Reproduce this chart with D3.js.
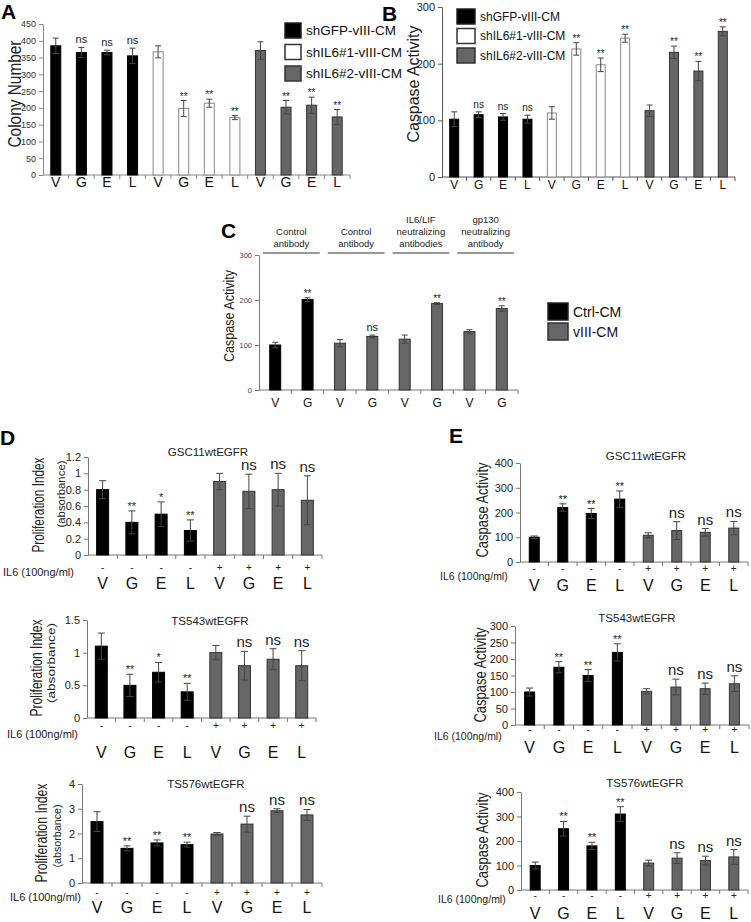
<!DOCTYPE html>
<html>
<head>
<meta charset="utf-8">
<script src="https://cdn.jsdelivr.net/npm/d3@7"></script>
<style>
  body { margin: 0; background: #fff; }
  svg { display: block; }
</style>
</head>
<body>
<svg id="fig" width="751" height="922"></svg>
<script>
// ---- data ----
const abLabels = ["V", "G", "E", "L", "V", "G", "E", "L", "V", "G", "E", "L"];
const abGroups = [0, 0, 0, 0, 1, 1, 1, 1, 2, 2, 2, 2];
const abLegend = ["shGFP-vIII-CM", "shIL6#1-vIII-CM", "shIL6#2-vIII-CM"];

const colonyMean = [385, 365, 365, 355, 367, 198, 214, 171, 371, 202, 208, 173];
const colonyErr = [23, 15, 7, 23, 18, 24, 12, 6, 26, 20, 24, 22];
const colonySig = ["", "ns", "ns", "ns", "", "**", "**", "**", "", "**", "**", "**"];
const colonyTicks = [0, 50, 100, 150, 200, 250, 300, 350, 400, 450];

const caspBMean = [102, 110, 106, 102, 113, 226, 198, 245, 117, 220, 187, 257];
const caspBErr = [13, 5, 6, 7, 11, 11, 12, 7, 10, 11, 17, 8];
const caspBSig = ["", "ns", "ns", "ns", "", "**", "**", "**", "", "**", "**", "**"];
const caspBTicks = [0, 100, 200, 300];

const cLabels = ["V", "G", "V", "G", "V", "G", "V", "G"];
const cGroups = [0, 0, 1, 1, 1, 1, 1, 1];
const cMean = [100, 201, 104, 119, 113, 192, 130, 181];
const cErr = [6, 4, 8, 3, 9, 2, 4, 6];
const cSig = ["", "**", "", "ns", "", "**", "", "**"];
const cTicks = [0, 100, 200, 300];
const cHeaders = [["Control", "antibody"], ["Control", "antibody"],
                  ["IL6/LIF", "neutralizing", "antibodies"], ["gp130", "neutralizing", "antibody"]];
const cLegend = ["Ctrl-CM", "vIII-CM"];

const deLabels = ["V", "G", "E", "L", "V", "G", "E", "L"];
const deGroups = [0, 0, 0, 0, 1, 1, 1, 1];
const il6Signs = ["-", "-", "-", "-", "+", "+", "+", "+"];

const prolifGSC11 = [0.80, 0.40, 0.50, 0.30, 0.90, 0.78, 0.80, 0.67];
const prolifGSC11Err = [0.11, 0.14, 0.15, 0.13, 0.10, 0.21, 0.20, 0.30];
const prolifGSC11Sig = ["", "**", "*", "**", "", "ns", "ns", "ns"];
const prolifGSC11Ticks = [0, 0.2, 0.4, 0.6, 0.8, 1, 1.2];

const prolifTS543 = [1.10, 0.50, 0.70, 0.40, 1.00, 0.80, 0.90, 0.80];
const prolifTS543Err = [0.20, 0.17, 0.15, 0.13, 0.11, 0.22, 0.16, 0.23];
const prolifTS543Sig = ["", "**", "*", "**", "", "ns", "ns", "ns"];
const prolifTS543Ticks = [0, 0.5, 1, 1.5];

const prolifTS576 = [2.48, 1.40, 1.62, 1.55, 1.98, 2.38, 2.92, 2.75];
const prolifTS576Err = [0.40, 0.10, 0.12, 0.10, 0.06, 0.32, 0.08, 0.22];
const prolifTS576Sig = ["", "**", "**", "**", "", "ns", "ns", "ns"];
const prolifTS576Ticks = [0, 1, 2, 3, 4];

const caspGSC11 = [100, 220, 196, 254, 108, 127, 120, 137];
const caspGSC11Err = [5, 15, 20, 33, 10, 36, 15, 27];
const caspGSC11Ticks = [0, 100, 200, 300, 400];

const caspTS543 = [100, 175, 150, 220, 102, 115, 110, 125];
const caspTS543Err = [12, 17, 18, 26, 8, 24, 17, 24];
const caspTS543Ticks = [0, 50, 100, 150, 200, 250, 300];

const caspTS576 = [100, 250, 180, 310, 110, 130, 120, 135];
const caspTS576Err = [14, 30, 15, 30, 12, 22, 18, 30];
const caspTS576Ticks = [0, 100, 200, 300, 400];

const caspSig = ["", "**", "**", "**", "", "ns", "ns", "ns"];

// ---- drawing ----
const FONT = "'Liberation Sans', Arial, sans-serif";
const svg = d3.select("#fig").attr("font-family", FONT);

function drawPanel(o) {
  const n = o.values.length;
  const g = svg.append("g");
  const x = d3.scaleBand().domain(d3.range(n)).range([o.x0, o.x1]);
  const y = d3.scaleLinear().domain([0, o.yMax]).range([o.y0, o.y1]);
  const cx = i => x(i) + x.bandwidth() / 2;

  const yAxis = g.append("g")
      .attr("transform", `translate(${o.x0},0)`)
      .call(d3.axisLeft(y).tickValues(o.ticks).tickSize(4).tickSizeOuter(0)
        .tickPadding(3).tickFormat(d3.format("")));
  yAxis.attr("font-family", FONT);
  yAxis.select(".domain").attr("stroke", o.axisColor);
  yAxis.selectAll(".tick line").attr("stroke", o.axisColor);
  yAxis.selectAll(".tick text").attr("font-size", o.tickFont).attr("fill", o.tickColor || "#222");

  // x axis with ticks between categories
  g.append("line")
      .attr("x1", o.x0).attr("x2", o.x1)
      .attr("y1", o.y0).attr("y2", o.y0)
      .attr("stroke", o.axisColor);
  g.selectAll(null)
    .data(d3.range(1, n + 1))
    .join("line")
      .attr("x1", i => o.x0 + i * x.step()).attr("x2", i => o.x0 + i * x.step())
      .attr("y1", o.y0).attr("y2", o.y0 + 4)
      .attr("stroke", o.axisColor);

  // bars
  g.selectAll(null)
    .data(o.values)
    .join("rect")
      .attr("x", (d, i) => cx(i) - o.barW / 2)
      .attr("y", d => y(d))
      .attr("width", o.barW)
      .attr("height", d => y(0) - y(d))
      .attr("fill", (d, i) => o.fills[o.groups[i]])
      .attr("stroke", (d, i) => o.strokes[o.groups[i]])
      .attr("stroke-width", 1);

  // error bars
  const cap = o.capW / 2;
  const eb = g.selectAll(null)
    .data(o.values)
    .join("g")
      .attr("stroke", "#444")
      .attr("stroke-width", 1);
  eb.append("line")
      .attr("x1", (d, i) => cx(i)).attr("x2", (d, i) => cx(i))
      .attr("y1", (d, i) => y(d - o.errors[i])).attr("y2", (d, i) => y(d + o.errors[i]));
  eb.append("line")
      .attr("x1", (d, i) => cx(i) - cap).attr("x2", (d, i) => cx(i) + cap)
      .attr("y1", (d, i) => y(d + o.errors[i])).attr("y2", (d, i) => y(d + o.errors[i]));
  eb.append("line")
      .attr("x1", (d, i) => cx(i) - cap).attr("x2", (d, i) => cx(i) + cap)
      .attr("y1", (d, i) => y(d - o.errors[i])).attr("y2", (d, i) => y(d - o.errors[i]));

  // significance marks
  g.selectAll(null)
    .data(o.sig)
    .join("text")
      .attr("x", (d, i) => cx(i))
      .attr("y", (d, i) => y(o.values[i] + o.errors[i]) - (d === "ns" ? 4 : 1))
      .attr("text-anchor", "middle")
      .attr("font-size", d => d === "ns" ? o.nsFont : o.starFont)
      .attr("fill", "#222")
      .text(d => d);

  // category labels
  g.selectAll(null)
    .data(o.labels)
    .join("text")
      .attr("x", (d, i) => cx(i))
      .attr("y", o.labelY)
      .attr("text-anchor", "middle")
      .attr("font-size", o.labelFont)
      .attr("fill", "#111")
      .text(d => d);

  if (o.signY) {
    g.selectAll(null)
      .data(il6Signs)
      .join("text")
        .attr("x", (d, i) => cx(i))
        .attr("y", o.signY)
        .attr("text-anchor", "middle")
        .attr("font-size", 10)
        .attr("fill", "#222")
        .text(d => d);
    g.append("text")
        .attr("x", o.il6X).attr("y", o.il6Y)
        .attr("font-size", o.il6Font || 11)
        .attr("fill", "#222")
        .text("IL6 (100ng/ml)");
  }

  // y axis title
  g.append("text")
      .attr("transform", `translate(${o.titleX},${o.titleY}) rotate(-90)`)
      .attr("text-anchor", "middle")
      .attr("dominant-baseline", "central")
      .attr("font-size", o.titleFont)
      .attr("textLength", o.titleLen)
      .attr("lengthAdjust", "spacingAndGlyphs")
      .attr("fill", "#222")
      .text(o.title);

  if (o.sub) {
    g.append("text")
        .attr("transform", `translate(${o.subX},${o.subY}) rotate(-90)`)
        .attr("text-anchor", "middle")
        .attr("dominant-baseline", "central")
        .attr("font-size", 11)
        .attr("textLength", o.subLen)
        .attr("lengthAdjust", "spacingAndGlyphs")
        .attr("fill", "#222")
        .text(o.sub);
  }

  if (o.chartTitle) {
    g.append("text")
        .attr("x", o.ctX).attr("y", o.ctY)
        .attr("text-anchor", "middle")
        .attr("font-size", 11.5)
        .attr("fill", "#222")
        .text(o.chartTitle);
  }
  return { x, y, cx, g };
}

function panelLetter(t, px, py) {
  svg.append("text")
      .attr("x", px).attr("y", py)
      .attr("font-size", 21)
      .attr("font-weight", "bold")
      .text(t);
}

function legend(items, fills, strokes, lx, ly, step, w, h, fontSize) {
  const lg = svg.append("g");
  lg.selectAll(null)
    .data(items)
    .join("rect")
      .attr("x", lx).attr("y", (d, i) => ly + i * step)
      .attr("width", w).attr("height", h)
      .attr("fill", (d, i) => fills[i])
      .attr("stroke", (d, i) => strokes[i])
      .attr("stroke-width", 1.5);
  lg.selectAll(null)
    .data(items)
    .join("text")
      .attr("x", lx + w + 5).attr("y", (d, i) => ly + i * step + h / 2)
      .attr("dominant-baseline", "central")
      .attr("font-size", fontSize)
      .attr("fill", "#111")
      .text(d => d);
}

const abFills = ["#000", "#fff", "#666"];
const abStrokes = ["#000", "#888", "#333"];
const deFills = ["#000", "#666"];
const deStrokes = ["#000", "#333"];

// ---- A ----
panelLetter("A", 1, 19);
drawPanel({
  x0: 43, x1: 350, y0: 175, y1: 24, yMax: 450, ticks: colonyTicks,
  values: colonyMean, errors: colonyErr, sig: colonySig, groups: abGroups,
  fills: abFills, strokes: abStrokes, barW: 10, capW: 6,
  axisColor: "#888", tickFont: 9, tickColor: "#333",
  labels: abLabels, labelY: 187, labelFont: 14,
  nsFont: 11, starFont: 10,
  title: "Colony Number", titleX: 14, titleY: 94, titleFont: 19, titleLen: 107
});
legend(abLegend, ["#000", "#fff", "#666"], ["#222", "#333", "#333"], 285, 23, 21.5, 16, 15, 13.5);

// ---- B ----
panelLetter("B", 382, 21);
drawPanel({
  x0: 442, x1: 735, y0: 177, y1: 7, yMax: 300, ticks: caspBTicks,
  values: caspBMean, errors: caspBErr, sig: caspBSig, groups: abGroups,
  fills: abFills, strokes: abStrokes, barW: 9, capW: 6,
  axisColor: "#555", tickFont: 11,
  labels: abLabels, labelY: 189, labelFont: 12,
  nsFont: 10, starFont: 10,
  title: "Caspase Activity", titleX: 413, titleY: 84, titleFont: 17, titleLen: 117
});
legend(abLegend, ["#000", "#fff", "#666"], ["#222", "#333", "#333"], 457, 9, 19.5, 18, 15, 12);

// ---- C ----
panelLetter("C", 221, 238);
const pc = drawPanel({
  x0: 259, x1: 518, y0: 390, y1: 255, yMax: 300, ticks: cTicks,
  values: cMean, errors: cErr, sig: cSig, groups: cGroups,
  fills: deFills, strokes: deStrokes, barW: 11, capW: 6,
  axisColor: "#777", tickFont: 7.5, tickColor: "#444",
  labels: cLabels, labelY: 407, labelFont: 12,
  nsFont: 11, starFont: 10,
  title: "Caspase Activity", titleX: 228, titleY: 316, titleFont: 15, titleLen: 92
});
// group headers over bar pairs
const hdr = pc.g.selectAll(null)
  .data(cHeaders)
  .join("g");
hdr.append("line")
    .attr("x1", (d, k) => pc.x(2 * k) + 4)
    .attr("x2", (d, k) => pc.x(2 * k + 1) + pc.x.bandwidth() - 4)
    .attr("y1", 253).attr("y2", 253)
    .attr("stroke", "#333");
hdr.each(function(d, k) {
  const xm = (pc.cx(2 * k) + pc.cx(2 * k + 1)) / 2;
  d3.select(this).selectAll("text")
    .data(d)
    .join("text")
      .attr("x", xm)
      .attr("y", (t, j) => 247 - (d.length - 1 - j) * 12)
      .attr("text-anchor", "middle")
      .attr("font-size", 9.5)
      .attr("fill", "#222")
      .text(t => t);
});
legend(cLegend, ["#000", "#666"], ["#222", "#333"], 548, 303, 20, 20, 17, 14);

// ---- D ----
panelLetter("D", 0, 445);
drawPanel({
  x0: 88, x1: 322, y0: 555, y1: 457, yMax: 1.2, ticks: prolifGSC11Ticks,
  values: prolifGSC11, errors: prolifGSC11Err, sig: prolifGSC11Sig, groups: deGroups,
  fills: deFills, strokes: deStrokes, barW: 12, capW: 7,
  axisColor: "#777", tickFont: 11,
  labels: deLabels, labelY: 589, labelFont: 16, signY: 571, il6X: 3, il6Y: 576,
  nsFont: 15, starFont: 11,
  title: "Proliferation Index", titleX: 38, titleY: 505, titleFont: 16, titleLen: 95,
  sub: "(absorbance)", subX: 61, subY: 494, subLen: 67,
  chartTitle: "GSC11wtEGFR", ctX: 208, ctY: 456
});
drawPanel({
  x0: 87, x1: 316, y0: 718, y1: 620, yMax: 1.5, ticks: prolifTS543Ticks,
  values: prolifTS543, errors: prolifTS543Err, sig: prolifTS543Sig, groups: deGroups,
  fills: deFills, strokes: deStrokes, barW: 12, capW: 7,
  axisColor: "#777", tickFont: 11,
  labels: deLabels, labelY: 758, labelFont: 16, signY: 729, il6X: 7, il6Y: 738,
  nsFont: 15, starFont: 11,
  title: "Proliferation Index", titleX: 36, titleY: 668, titleFont: 16, titleLen: 97,
  sub: "(absorbance)", subX: 51, subY: 663, subLen: 80,
  chartTitle: "TS543wtEGFR", ctX: 210, ctY: 625
});
drawPanel({
  x0: 82, x1: 322, y0: 883, y1: 784, yMax: 4, ticks: prolifTS576Ticks,
  values: prolifTS576, errors: prolifTS576Err, sig: prolifTS576Sig, groups: deGroups,
  fills: deFills, strokes: deStrokes, barW: 12, capW: 7,
  axisColor: "#777", tickFont: 11,
  labels: deLabels, labelY: 913, labelFont: 16, signY: 896, il6X: 10, il6Y: 901,
  nsFont: 15, starFont: 11,
  title: "Proliferation Index", titleX: 41, titleY: 833, titleFont: 16, titleLen: 99,
  sub: "(absorbance)", subX: 57, subY: 836, subLen: 63,
  chartTitle: "TS576wtEGFR", ctX: 206, ctY: 788
});

// ---- E ----
panelLetter("E", 449, 443);
drawPanel({
  x0: 520, x1: 748, y0: 562, y1: 463, yMax: 400, ticks: caspGSC11Ticks,
  values: caspGSC11, errors: caspGSC11Err, sig: caspSig, groups: deGroups,
  fills: deFills, strokes: deStrokes, barW: 10, capW: 7,
  axisColor: "#777", tickFont: 11,
  labels: deLabels, labelY: 591, labelFont: 16, signY: 572, il6X: 440, il6Y: 580, il6Font: 10.5,
  nsFont: 15, starFont: 11,
  title: "Caspase Activity", titleX: 482, titleY: 510, titleFont: 16, titleLen: 95,
  chartTitle: "GSC11wtEGFR", ctX: 646, ctY: 460
});
drawPanel({
  x0: 515, x1: 749, y0: 725, y1: 626, yMax: 300, ticks: caspTS543Ticks,
  values: caspTS543, errors: caspTS543Err, sig: caspSig, groups: deGroups,
  fills: deFills, strokes: deStrokes, barW: 10, capW: 7,
  axisColor: "#777", tickFont: 11,
  labels: deLabels, labelY: 753, labelFont: 16, signY: 733, il6X: 434, il6Y: 740, il6Font: 10.5,
  nsFont: 15, starFont: 11,
  title: "Caspase Activity", titleX: 480, titleY: 675, titleFont: 16, titleLen: 95,
  chartTitle: "TS543wtEGFR", ctX: 637, ctY: 622
});
drawPanel({
  x0: 521, x1: 748, y0: 890, y1: 792, yMax: 400, ticks: caspTS576Ticks,
  values: caspTS576, errors: caspTS576Err, sig: caspSig, groups: deGroups,
  fills: deFills, strokes: deStrokes, barW: 10, capW: 7,
  axisColor: "#777", tickFont: 11,
  labels: deLabels, labelY: 919, labelFont: 16, signY: 899, il6X: 438, il6Y: 903, il6Font: 10.5,
  nsFont: 15, starFont: 11,
  title: "Caspase  Activity", titleX: 482, titleY: 840, titleFont: 16, titleLen: 95,
  chartTitle: "TS576wtEGFR", ctX: 645, ctY: 787
});
</script>
</body>
</html>
